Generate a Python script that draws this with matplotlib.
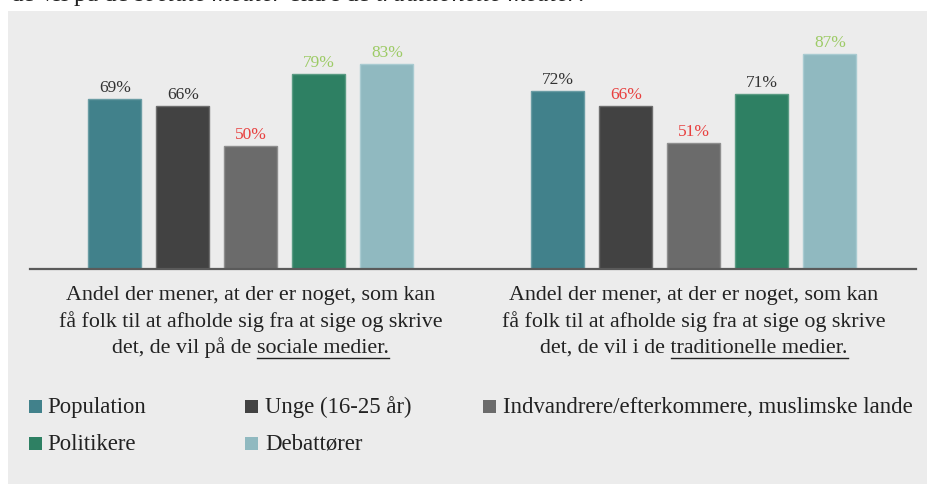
import matplotlib
matplotlib.use("Agg")
import matplotlib.pyplot as plt
from matplotlib.patches import Rectangle
from matplotlib.lines import Line2D

# ---------------- data ----------------
series = ["Population", "Unge (16-25 år)", "Indvandrere/efterkommere, muslimske lande",
          "Politikere", "Debattører"]
group_lines = [
    ["Andel der mener, at der er noget, som kan",
     "få folk til at afholde sig fra at sige og skrive",
     "det, de vil på de sociale medier."],
    ["Andel der mener, at der er noget, som kan",
     "få folk til at afholde sig fra at sige og skrive",
     "det, de vil i de traditionelle medier."],
]
group_underlined = ["sociale medier.", "traditionelle medier."]
values_sociale = [69, 66, 50, 79, 83]
values_traditionelle = [72, 66, 51, 71, 87]
# label highlight per value: n = normal, r = red (lower), g = green (higher)
marks_sociale = ["n", "n", "r", "g", "g"]
marks_traditionelle = ["n", "r", "r", "n", "g"]
top_text = r"de vil på de $\mathit{sociale\ medier}$ end i de $\mathit{traditionelle\ medier.}$"

# ---------------- style ----------------
plt.rcParams["font.family"] = ["Liberation Serif", "DejaVu Serif"]
plt.rcParams["mathtext.fontset"] = "custom"
plt.rcParams["mathtext.rm"] = "Liberation Serif"
plt.rcParams["mathtext.it"] = "Liberation Serif:italic"

colors = ["#41818b", "#424242", "#6b6b6b", "#2e8063", "#90b9c0"]
edges = ["#6a9ca4", "#6e6e6e", "#8e8e8e", "#5a9b83", "#a9cbd1"]
mark_colors = {"n": "#333333", "r": "#e8403f", "g": "#9dcb66"}
text_col = "#222222"

W, H = 928, 484
fig = plt.figure(figsize=(W / 100, H / 100), dpi=100, facecolor="white")
fig.patches.append(Rectangle((8 / W, 0), (W - 8) / W, (H - 11) / H,
                             transform=fig.transFigure, facecolor="#ececec",
                             edgecolor="none", zorder=-5))

def fx(px):
    return px / W

def fy(py_top):
    return 1 - py_top / H

# partial text at top (cut by the figure edge, as in the reference)
fig.text(fx(10), fy(1.5), top_text, fontsize=18.3, color=text_col, va="baseline", ha="left")

ax = fig.add_axes([fx(30), fy(269), 886 / W, 247 / H])
ax.set_xlim(0, 886)
ax.set_ylim(0, 100)
ax.axis("off")

group_centers = [221, 664]
spacing, bw = 68, 53
for g, (vals, marks) in enumerate([(values_sociale, marks_sociale),
                                   (values_traditionelle, marks_traditionelle)]):
    for j, (v, m) in enumerate(zip(vals, marks)):
        x = group_centers[g] + (j - 2) * spacing
        ax.bar(x, v, width=bw, color=colors[j], edgecolor=edges[j], linewidth=1, zorder=2)
        ax.annotate(f"{v}%", (x, v), xytext=(0, 5), textcoords="offset points",
                    ha="center", va="baseline", fontsize=12.5, color=mark_colors[m])
ax.axhline(0, color="#5a5a5a", lw=1.6, zorder=3, clip_on=False)

# category labels
cat_fs = 15.8
renderer = fig.canvas.get_renderer()
line_base = [300, 327, 353]
gx = [30 + c for c in group_centers]
for g in range(2):
    for k, line in enumerate(group_lines[g]):
        t = fig.text(fx(gx[g]), fy(line_base[k]), line, fontsize=cat_fs, color=text_col,
                     ha="center", va="baseline")
    bb = t.get_window_extent(renderer)
    tmp = fig.text(0, 0, group_underlined[g], fontsize=cat_fs)
    uw = tmp.get_window_extent(renderer).width
    tmp.remove()
    fig.lines.append(Line2D([(bb.x1 - uw) / W, bb.x1 / W], [fy(357.5), fy(357.5)],
                            transform=fig.transFigure, color=text_col, lw=1))

# legend
sq_x = [29, 245, 483]
tx_x = [47, 265, 503]
row_base = [413, 450]
for i, name in enumerate(series):
    r, c = divmod(i, 3)
    fig.patches.append(Rectangle((fx(sq_x[c]), fy(row_base[r])), 13 / W, 13 / H,
                                 transform=fig.transFigure, facecolor=colors[i],
                                 edgecolor="none"))
    fig.text(fx(tx_x[c]), fy(row_base[r]), name, fontsize=16.4, color=text_col,
             ha="left", va="baseline")

fig.savefig("out.png", dpi=100, facecolor="white")
